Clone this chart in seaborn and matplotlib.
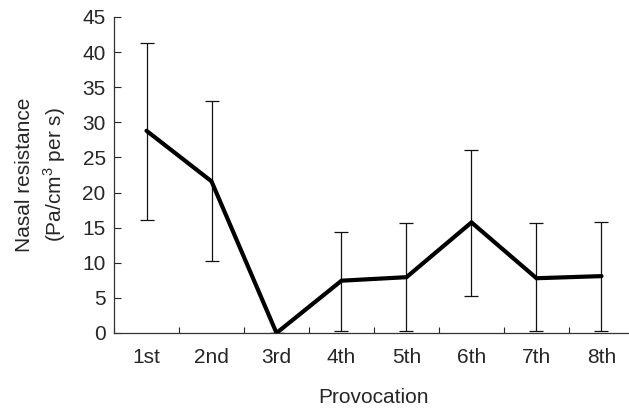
import numpy as np
import matplotlib
matplotlib.use("Agg")
import matplotlib.pyplot as plt
import seaborn as sns

# values
provocations = ["1st", "2nd", "3rd", "4th", "5th", "6th", "7th", "8th"]
mean_resistance = [28.8, 21.6, 0.0, 7.45, 7.95, 15.75, 7.8, 8.1]
upper_bound = [41.3, 33.0, 0.0, 14.4, 15.6, 26.0, 15.6, 15.85]
lower_bound = [16.1, 10.3, 0.0, 0.3, 0.3, 5.2, 0.3, 0.3]

sns.set_style("ticks")
plt.rcParams["font.family"] = ["Liberation Sans", "DejaVu Sans"]
plt.rcParams["mathtext.fontset"] = "custom"
plt.rcParams["mathtext.rm"] = "Liberation Sans"

FS = 15

fig = plt.figure(figsize=(6.29, 4.09), dpi=100)
ax = fig.add_axes([114 / 629, 76 / 409, 520 / 629, 316 / 409])

pos = np.arange(len(provocations))
means = np.array(mean_resistance)
yerr = [means - np.array(lower_bound), np.array(upper_bound) - means]

# error bars (thin, capped)
ax.errorbar(pos, means, yerr=yerr, fmt="none", ecolor="#111111",
            elinewidth=0.9, capsize=5, capthick=0.9, zorder=2)
# mean line
sns.lineplot(x=pos, y=means, ax=ax, color="black", linewidth=3,
             solid_joinstyle="miter", zorder=3)

ax.set_xlim(-0.5, len(provocations) - 0.5)
ax.set_ylim(0, 45)
ax.set_yticks(np.arange(0, 46, 5))

# labels at category centres, tick marks at the boundaries
ax.set_xticks(pos)
ax.set_xticklabels(provocations)
ax.set_xticks(np.arange(-0.5, len(provocations), 1), minor=True)
ax.tick_params(axis="x", which="major", length=0, pad=11, labelsize=FS)
ax.tick_params(axis="x", which="minor", direction="in", length=4, width=0.8)
ax.tick_params(axis="y", direction="in", length=5, width=0.8, labelsize=FS, pad=6)

for side in ["top", "right"]:
    ax.spines[side].set_visible(False)
for side in ["left", "bottom"]:
    ax.spines[side].set_linewidth(0.9)
    ax.spines[side].set_color("#333333")

ax.set_xlabel("Provocation", fontsize=FS, labelpad=15)
ax.set_ylabel("Nasal resistance\n(Pa/cm$^3$ per s)", fontsize=FS, labelpad=10,
              linespacing=1.4)

fig.savefig("out.png", dpi=100)
